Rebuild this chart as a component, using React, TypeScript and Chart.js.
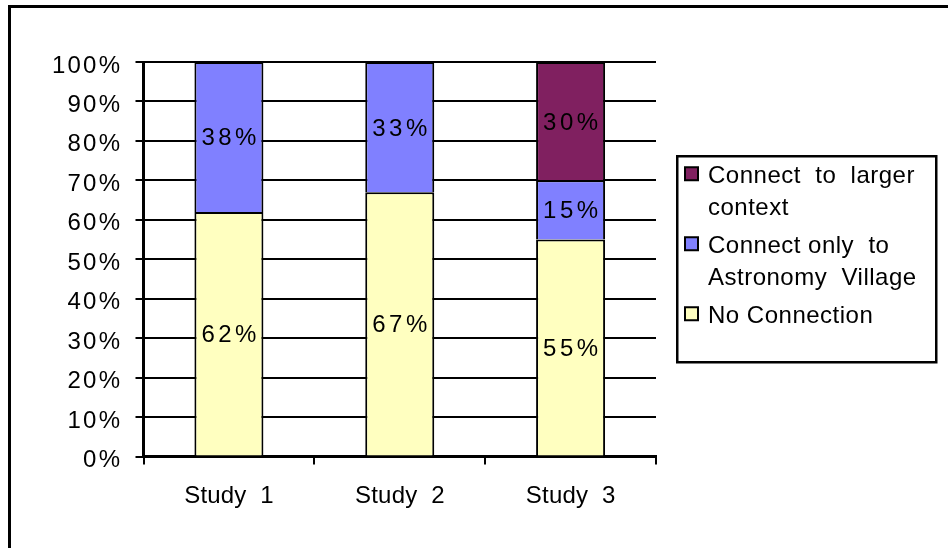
import { useEffect, useRef } from "react";
import { Chart, registerables } from "chart.js";

Chart.register(...registerables);

// Categories and stacked percentages per study
const studies = ["Study  1", "Study  2", "Study  3"];
const noConnection = [62, 67, 55];
const astronomyOnly = [38, 33, 15];
const largerContext = [null, null, 30];
const yTickValues = [0, 10, 20, 30, 40, 50, 60, 70, 80, 90, 100];

const seriesNames = [
  "No Connection",
  "Connect only to Astronomy Village",
  "Connect to larger context",
];
// Legend text, wrapped into lines, listed top to bottom
const legendLines = [
  ["Connect  to  larger", "context"],
  ["Connect only  to", "Astronomy  Village"],
  ["No Connection"],
];

const COLORS = ["#FFFFC0", "#8080FF", "#802060"];
const FONT = '"Liberation Sans", Arial, Helvetica, sans-serif';

function spacedText(
  ctx: CanvasRenderingContext2D,
  text: string,
  x: number,
  y: number,
  align: "left" | "center" | "right",
  spacing: number
) {
  (ctx as any).letterSpacing = "0px";
  const base = ctx.measureText(text).width;
  const width = base + spacing * (text.length - 1);
  let start = x;
  if (align === "center") start = x - width / 2;
  if (align === "right") start = x - width;
  (ctx as any).letterSpacing = spacing + "px";
  ctx.textAlign = "left";
  ctx.fillText(text, start, y);
  (ctx as any).letterSpacing = "0px";
}

const overlayPlugin = {
  id: "overlay",
  afterDraw(chart: any) {
    const ctx: CanvasRenderingContext2D = chart.ctx;
    const xs = chart.scales.x;
    const ys = chart.scales.y;
    ctx.save();
    ctx.fillStyle = "#000";
    ctx.textBaseline = "alphabetic";

    // outer frame (top and left edges)
    ctx.strokeStyle = "#000";
    ctx.lineWidth = 3;
    ctx.beginPath();
    ctx.moveTo(9.5, chart.height + 10);
    ctx.lineTo(9.5, 6.5);
    ctx.lineTo(chart.width + 10, 6.5);
    ctx.stroke();

    // y tick labels
    ctx.font = `24px ${FONT}`;
    yTickValues.forEach((v) => {
      spacedText(ctx, `${v}%`, xs.left - 23.5, ys.getPixelForValue(v) + 10.5, "right", 2.2);
    });

    // category labels
    ctx.font = `24px ${FONT}`;
    studies.forEach((s, i) => {
      spacedText(ctx, s, xs.getPixelForValue(i), ys.bottom + 46, "center", 0.2);
    });

    // segment value labels
    ctx.font = `24px ${FONT}`;
    chart.data.datasets.forEach((ds: any, d: number) => {
      const meta = chart.getDatasetMeta(d);
      ds.data.forEach((v: number | null, i: number) => {
        if (v == null) return;
        const el = meta.data[i];
        const cy = (el.y + el.base) / 2;
        spacedText(ctx, `${v}%`, el.x, cy + 8.5, "center", 3.5);
      });
    });

    // legend box
    const bx = 677.25;
    const by = 156.25;
    ctx.lineWidth = 2.5;
    ctx.strokeRect(bx, by, 259, 206);
    ctx.font = `24px ${FONT}`;
    const order = [2, 1, 0];
    let baseline = by + 27;
    order.forEach((d, k) => {
      ctx.fillStyle = COLORS[d];
      ctx.fillRect(685, baseline - 16, 13, 13);
      ctx.strokeStyle = "#000";
      ctx.lineWidth = 2;
      ctx.strokeRect(685, baseline - 16, 13, 13);
      ctx.fillStyle = "#000";
      legendLines[k].forEach((line, j) => {
        spacedText(ctx, line, 708, baseline, "left", 0.5);
        if (j < legendLines[k].length - 1) baseline += 32;
      });
      baseline += 38;
    });
    ctx.restore();
  },
};

export default function App() {
  const ref = useRef<HTMLCanvasElement | null>(null);

  useEffect(() => {
    if (!ref.current) return;
    const chart = new Chart(ref.current, {
      type: "bar",
      data: {
        labels: studies,
        datasets: [
          { label: seriesNames[0], data: noConnection, backgroundColor: COLORS[0] },
          { label: seriesNames[1], data: astronomyOnly, backgroundColor: COLORS[1] },
          { label: seriesNames[2], data: largerContext, backgroundColor: COLORS[2] },
        ].map((d) => ({
          ...d,
          borderColor: "#000",
          borderWidth: 2,
          borderSkipped: "bottom",
          barPercentage: 0.404,
          categoryPercentage: 1,
        })),
      },
      options: {
        responsive: false,
        animation: false,
        devicePixelRatio: 1,
        layout: { padding: { left: 135.5, top: 62, right: 292, bottom: 83.5 } },
        plugins: {
          legend: { display: false },
          tooltip: { enabled: false },
        },
        scales: {
          x: {
            stacked: true,
            ticks: { display: false },
            grid: {
              display: true,
              drawOnChartArea: false,
              drawTicks: true,
              tickLength: 8,
              color: "#000",
              lineWidth: 2,
            },
            border: { display: true, color: "#000", width: 3 },
          },
          y: {
            stacked: true,
            min: 0,
            max: 100,
            ticks: { display: false, stepSize: 10 },
            grid: {
              color: "#000",
              lineWidth: 2,
              drawTicks: true,
              tickLength: 8,
            },
            border: { display: true, color: "#000", width: 3 },
          },
        },
      },
      plugins: [overlayPlugin],
    });
    return () => chart.destroy();
  }, []);

  return (
    <div style={{ position: "fixed", left: 0, top: 0, width: 948, height: 548, background: "#fff" }}>
      <canvas ref={ref} width={948} height={548} style={{ display: "block" }} />
    </div>
  );
}
